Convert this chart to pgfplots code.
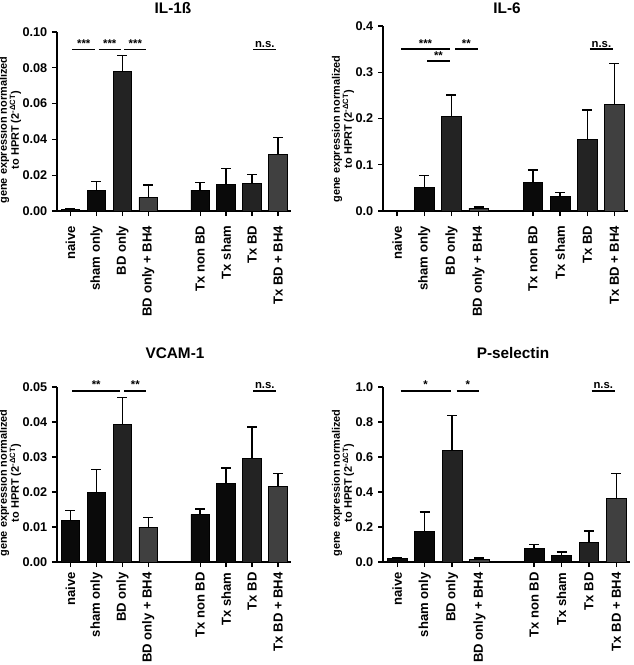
\documentclass[border=0pt]{standalone}
\usepackage{fontspec}
\setmainfont{Liberation Sans}
\usepackage{pgfplots}
\pgfplotsset{compat=1.18}

\definecolor{barA}{HTML}{0A0A0A}
\definecolor{barB}{HTML}{232323}
\definecolor{barC}{HTML}{404040}

\newcommand{\ylab}{gene expression normalized\\to HPRT (2\textsuperscript{-ΔCT})}

\pgfplotsset{
  panel/.style={
    scale only axis, anchor=south west, clip=false,
    axis lines=left, axis line style={-, line width=1.1pt, black},
    xmin=-0.52, xmax=8.5, ymin=0,
    xtick={0,1,2,3,5,6,7,8},
    xticklabels={naive, sham only, BD only, BD only + BH4, Tx non BD, Tx sham, Tx BD, Tx BD + BH4},
    x tick label style={rotate=90, anchor=east, font=\bfseries\fontsize{9.8}{11}\selectfont},
    xticklabel shift=4pt,
    y tick label style={font=\bfseries\fontsize{9.5}{11}\selectfont},
    tick align=outside, major tick length=3.75pt,
    tick style={line width=1pt, black},
    scaled y ticks=false,
    /pgf/number format/assume math mode=true,
  },
  prec/.style={yticklabel style={/pgf/number format/fixed, /pgf/number format/fixed zerofill, /pgf/number format/precision=#1}},
  bars/.style={ybar, bar shift=0pt, bar width=0.72, draw=black, line width=0.5pt, fill=#1,
    error bars/.cd, y dir=plus, y explicit,
    error bar style={line width=1.1pt, black},
    error mark options={rotate=90, line width=1.1pt, mark size=3.75pt, black}},
}
\tikzset{
  sig/.style={line width=1pt},
  sigt/.style={font=\bfseries\fontsize{8.5}{9}\selectfont, inner sep=1pt, above},
  ttl/.style={font=\bfseries\fontsize{11.5}{13}\selectfont},
  yl/.style={rotate=90, align=center, font=\bfseries\fontsize{8.2}{9}\selectfont},
}

\begin{document}
\begin{tikzpicture}
\useasboundingbox (0,0) rectangle (475.5pt,-498.75pt);

% ---------- IL-1ss ----------
\begin{axis}[panel, prec=2, at={(42.75pt,-158.25pt)}, width=175.5pt, height=134.25pt,
  ymax=0.1, ytick={0,0.02,0.04,0.06,0.08,0.1}]
\addplot[bars=barA] coordinates {(0,0.001) +- (0,0.0003) (1,0.0113) +- (0,0.0051) (5,0.0117) +- (0,0.0041) (6,0.0149) +- (0,0.0089)};
\addplot[bars=barB] coordinates {(2,0.0779) +- (0,0.0089) (7,0.0156) +- (0,0.0048)};
\addplot[bars=barC] coordinates {(3,0.0076) +- (0,0.0069) (8,0.0318) +- (0,0.0093)};
\draw[sig] (axis cs:0.07,0.0903) -- (axis cs:0.95,0.0903) node[midway,sigt] {***};
\draw[sig] (axis cs:1.08,0.0903) -- (axis cs:1.95,0.0903) node[midway,sigt] {***};
\draw[sig] (axis cs:2.08,0.0903) -- (axis cs:2.92,0.0903) node[midway,sigt] {***};
\draw[sig] (axis cs:7.05,0.0903) -- (axis cs:7.93,0.0903) node[midway,sigt] {n.s.};
\end{axis}

% ---------- IL-6 ----------
\begin{axis}[panel, prec=1, at={(287.25pt,-158.25pt)}, width=183.75pt, height=138.75pt,
  ymax=0.4, ytick={0,0.1,0.2,0.3,0.4}]
\addplot[bars=barA] coordinates {(0,0.001) +- (0,0.0005) (1,0.051) +- (0,0.0255) (5,0.061) +- (0,0.028) (6,0.032) +- (0,0.008)};
\addplot[bars=barB] coordinates {(2,0.204) +- (0,0.047) (7,0.155) +- (0,0.063)};
\addplot[bars=barC] coordinates {(3,0.006) +- (0,0.003) (8,0.230) +- (0,0.089)};
\draw[sig] (axis cs:0.15,0.350) -- (axis cs:1.94,0.350) node[midway,sigt] {***};
\draw[sig] (axis cs:1.10,0.324) -- (axis cs:1.94,0.324) node[midway,sigt] {**};
\draw[sig] (axis cs:2.14,0.350) -- (axis cs:2.96,0.350) node[midway,sigt] {**};
\draw[sig] (axis cs:7.10,0.350) -- (axis cs:7.94,0.350) node[midway,sigt] {n.s.};
\end{axis}

% ---------- VCAM-1 ----------
\begin{axis}[panel, prec=2, at={(42.75pt,-421.5pt)}, width=175.5pt, height=131.25pt,
  xticklabel shift=0.5pt,
  ymax=0.05, ytick={0,0.01,0.02,0.03,0.04,0.05}]
\addplot[bars=barA] coordinates {(0,0.0118) +- (0,0.0029) (1,0.0199) +- (0,0.0066) (5,0.0136) +- (0,0.0015) (6,0.0224) +- (0,0.0045)};
\addplot[bars=barB] coordinates {(2,0.0394) +- (0,0.0076) (7,0.0296) +- (0,0.0090)};
\addplot[bars=barC] coordinates {(3,0.0100) +- (0,0.0027) (8,0.0216) +- (0,0.0037)};
\draw[sig] (axis cs:0.07,0.0489) -- (axis cs:1.91,0.0489) node[midway,sigt] {**};
\draw[sig] (axis cs:2.08,0.0489) -- (axis cs:2.92,0.0489) node[midway,sigt] {**};
\draw[sig] (axis cs:7.05,0.0489) -- (axis cs:7.93,0.0489) node[midway,sigt] {n.s.};
\end{axis}

% ---------- P-selectin ----------
\begin{axis}[panel, prec=1, at={(287.25pt,-421.5pt)}, width=185.25pt, height=131.25pt,
  xticklabel shift=0.5pt,
  ymax=1.0, ytick={0,0.2,0.4,0.6,0.8,1.0}]
\addplot[bars=barA] coordinates {(0,0.019) +- (0,0.008) (1,0.174) +- (0,0.112) (5,0.078) +- (0,0.021) (6,0.037) +- (0,0.021)};
\addplot[bars=barB] coordinates {(2,0.639) +- (0,0.198) (7,0.110) +- (0,0.066)};
\addplot[bars=barC] coordinates {(3,0.017) +- (0,0.006) (8,0.364) +- (0,0.142)};
\draw[sig] (axis cs:0.12,0.978) -- (axis cs:1.95,0.978) node[midway,sigt] {*};
\draw[sig] (axis cs:2.17,0.978) -- (axis cs:2.98,0.978) node[midway,sigt] {*};
\draw[sig] (axis cs:7.10,0.978) -- (axis cs:7.95,0.978) node[midway,sigt] {n.s.};
\end{axis}

% titles and y labels
\node[ttl] at (129.75pt,-6pt) {IL-1ß};
\node[ttl] at (380.25pt,-6pt) {IL-6};
\node[ttl] at (131.25pt,-264.75pt) {VCAM-1};
\node[ttl] at (384.75pt,-264.75pt) {P-selectin};
\node[yl] at (7.5pt,-97.5pt) {\ylab};
\node[yl] at (257.25pt,-96.75pt) {\ylab};
\node[yl] at (7.5pt,-362.25pt) {\ylab};
\node[yl] at (257.25pt,-362.25pt) {\ylab};
\end{tikzpicture}
\end{document}
